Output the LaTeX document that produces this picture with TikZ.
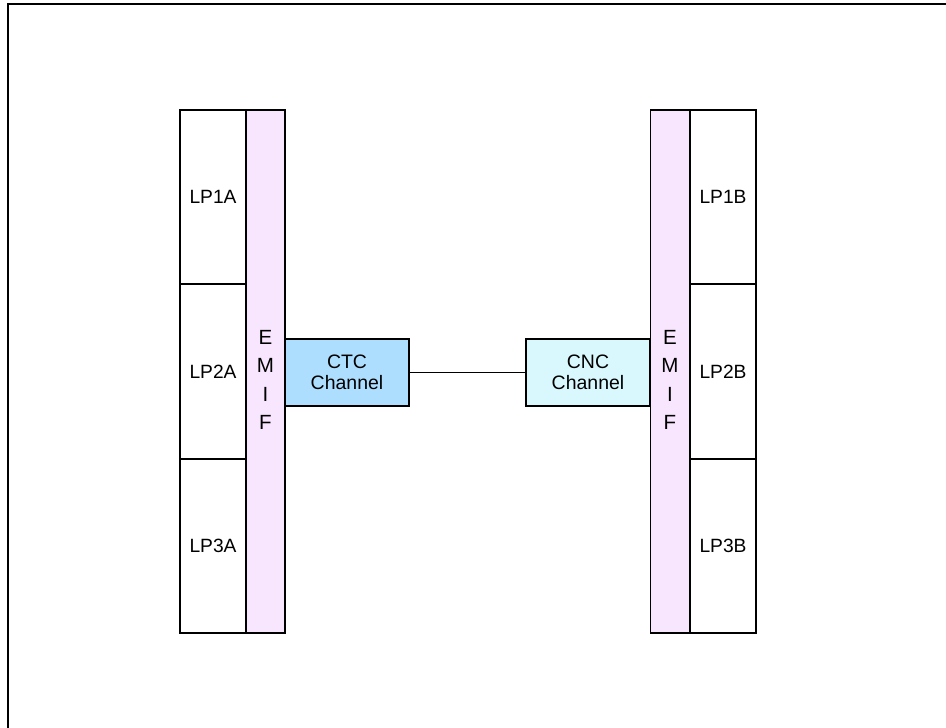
\documentclass[tikz,border=0pt]{standalone}
\usepackage{fontspec}
\setmainfont{Liberation Sans}
\usepackage{xcolor}
\usetikzlibrary{positioning}
\definecolor{emifpink}{HTML}{F7E6FD}
\definecolor{ctcblue}{HTML}{ADDEFE}
\definecolor{cncblue}{HTML}{D9F8FD}

\begin{document}
\begin{tikzpicture}[x=0.75pt,y=-0.75pt,font=\fontsize{14.4}{17}\selectfont,
  lpbox/.style={draw,line width=1.4pt,minimum width=49.5pt,minimum height=130.8pt,inner sep=0,outer sep=0},
  emifbar/.style={draw,line width=1.4pt,fill=emifpink,minimum width=29.25pt,minimum height=392.2pt,inner sep=0,outer sep=0},
  emiftext/.style={align=center,inner sep=0,font=\fontsize{15.4}{21.4}\selectfont},
  chanbox/.style={draw,line width=1.4pt,minimum width=93pt,minimum height=50.2pt,inner sep=0,outer sep=0,align=center,font=\fontsize{14.6}{15.6}\selectfont}]
  \useasboundingbox (0,0) rectangle (946,728);
  \draw[line width=1.9pt] (8,728) -- (8,4) -- (946,4);
  \foreach [count=\i] \yy in {197,371.5,546}{
      \node[lpbox] (lp\i a) at (213,\yy) {LP\i A};
      \node[lpbox] (lp\i b) at (723,\yy) {LP\i B};
  }
  \node[emifbar] (emifa) at (265.5,371.5) {};
  \node[emifbar] (emifb) at (670,371.5) {};
  \node[emiftext] (emifatext) at (265.5,380) {E\\M\\I\\F};
  \node[emiftext] (emifbtext) at (670,380) {E\\M\\I\\F};
  \node[chanbox,fill=ctcblue] (ctc) at (347,372.5) {CTC\\Channel};
  \node[chanbox,fill=cncblue] (cnc) at (588,372.5) {CNC\\Channel};
  \draw[line width=1.1pt] (ctc) -- (cnc);
\end{tikzpicture}
\end{document}
